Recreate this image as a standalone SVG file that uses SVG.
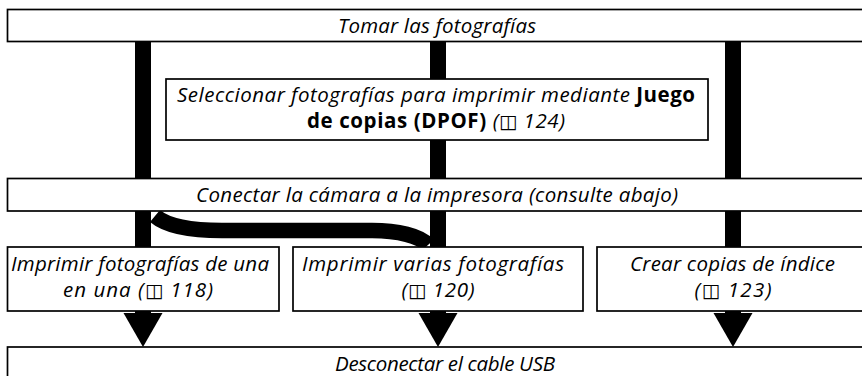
<svg xmlns="http://www.w3.org/2000/svg" width="862" height="376" viewBox="0 0 862 376">
<style>
.box{fill:#fff;stroke:#000;stroke-width:1.7}
.t{font-family:"Open Sans","Liberation Sans",sans-serif;font-style:italic;font-size:20.5px;fill:#000;text-anchor:middle}
.b{font-weight:bold;font-style:normal}
.bk{font-family:"DejaVu Sans",sans-serif;font-style:normal;font-size:19px}
.bar{fill:#000}
.curve{fill:none;stroke:#000;stroke-width:15.5}
</style>
<rect width="862" height="376" fill="#fff"/>
<g id="connectors">
  <rect class="bar" x="135" y="41" width="16" height="207"/>
  <rect class="bar" x="430" y="41" width="16" height="207"/>
  <rect class="bar" x="725" y="41" width="16" height="207"/>
  <path class="curve" d="M155,216 C168,227 192,230.5 222,230.5 L372,230.5 C398,230.5 420,236 428,245"/>
  <rect class="bar" x="135" y="309" width="16" height="6"/>
  <polygon class="bar" points="123.5,313 162.5,313 143,347"/>
  <rect class="bar" x="430" y="309" width="16" height="6"/>
  <polygon class="bar" points="418.5,313 457.5,313 438,347"/>
  <rect class="bar" x="725" y="309" width="16" height="6"/>
  <polygon class="bar" points="713.5,313 752.5,313 733,347"/>
</g>
<g id="tomar">
  <rect class="box" x="7.5" y="9.5" width="870" height="32"/>
  <text class="t" x="437" y="33" textLength="198">Tomar las fotografías</text>
</g>
<g id="seleccionar">
  <rect class="box" x="166" y="79" width="542" height="61"/>
  <text class="t" x="436" y="101.5" textLength="518">Seleccionar fotografías para imprimir mediante <tspan class="b">Juego</tspan></text>
  <text class="t" x="436" y="128" textLength="258"><tspan class="b">de copias (DPOF)</tspan> (<tspan class="bk">◫</tspan> 124)</text>
</g>
<g id="conectar">
  <rect class="box" x="7.5" y="178.5" width="870" height="32.5"/>
  <text class="t" x="437" y="202" textLength="482">Conectar la cámara a la impresora (consulte abajo)</text>
</g>
<g id="una">
  <rect class="box" x="7.5" y="247" width="271.5" height="64"/>
  <text class="t" x="140" y="270.5" textLength="258">Imprimir fotografías de una</text>
  <text class="t" x="138" y="297" textLength="150">en una (<tspan class="bk">◫</tspan> 118)</text>
</g>
<g id="varias">
  <rect class="box" x="293" y="247" width="290" height="64"/>
  <text class="t" x="433" y="270.5" textLength="262">Imprimir varias fotografías</text>
  <text class="t" x="438" y="297" textLength="73">(<tspan class="bk">◫</tspan> 120)</text>
</g>
<g id="indice">
  <rect class="box" x="597" y="247" width="280" height="64"/>
  <text class="t" x="732.5" y="270.5" textLength="205">Crear copias de índice</text>
  <text class="t" x="733" y="297" textLength="77">(<tspan class="bk">◫</tspan> 123)</text>
</g>
<g id="desconectar">
  <rect class="box" x="7.5" y="347" width="870" height="40"/>
  <text class="t" x="445" y="371" textLength="220">Desconectar el cable USB</text>
</g>
</svg>
